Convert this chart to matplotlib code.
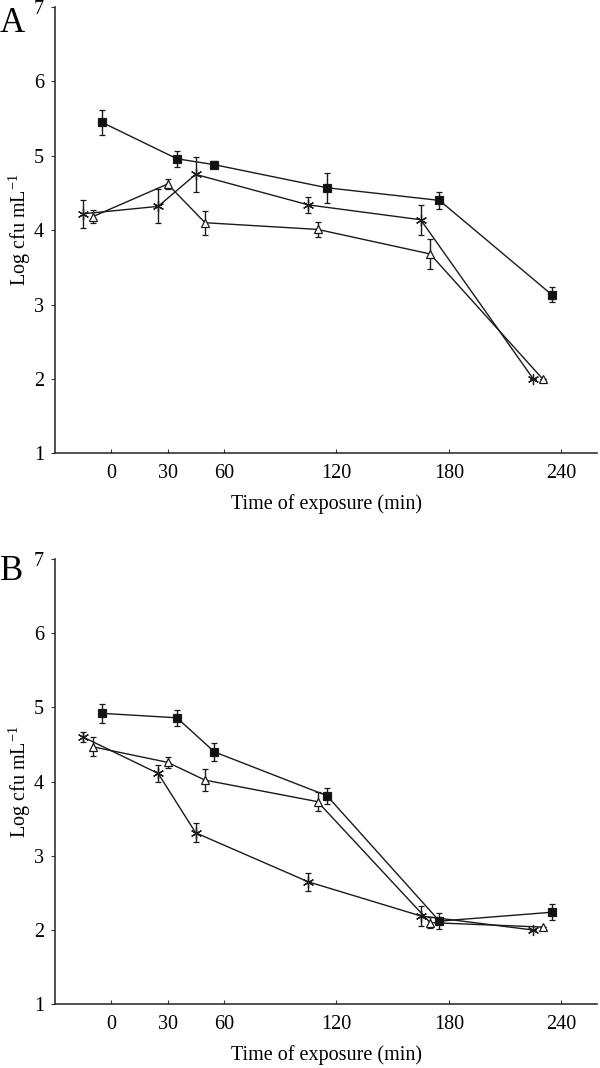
import matplotlib
matplotlib.use("Agg")
import matplotlib.pyplot as plt

plt.rcParams['font.family'] = ['Liberation Serif', 'DejaVu Serif']
plt.rcParams['mathtext.fontset'] = 'custom'
plt.rcParams['mathtext.rm'] = 'Liberation Serif'

# --- data (time in min, log cfu/mL) ---
# Panel A
a_sq_t = [-5, 35, 55, 115, 175, 235]
a_sq_y = [5.45, 4.96, 4.88, 4.57, 4.40, 3.13]
a_sq_e = [0.17, 0.11, 0.05, 0.20, 0.11, 0.10]

a_st_t = [-15, 25, 45, 105, 165, 225]
a_st_y = [4.22, 4.32, 4.75, 4.34, 4.14, 2.00]
a_st_e = [0.19, 0.23, 0.24, 0.11, 0.20, 0.0]

a_tr_t = [-10, 30, 50, 110, 170, 230]
a_tr_y = [4.18, 4.62, 4.10, 4.01, 3.68, 2.00]
a_tr_e = [0.09, 0.07, 0.16, 0.10, 0.20, 0.0]

# Panel B
b_sq_t = [-5, 35, 55, 115, 175, 235]
b_sq_y = [4.92, 4.86, 4.40, 3.81, 2.12, 2.24]
b_sq_e = [0.13, 0.11, 0.12, 0.11, 0.11, 0.11]

b_st_t = [-15, 25, 45, 105, 165, 225]
b_st_y = [4.60, 4.11, 3.31, 2.65, 2.19, 2.00]
b_st_e = [0.07, 0.12, 0.13, 0.12, 0.13, 0.0]

b_tr_t = [-10, 30, 50, 110, 170, 230]
b_tr_y = [4.47, 4.26, 4.02, 3.73, 2.10, 2.04]
b_tr_e = [0.13, 0.07, 0.15, 0.13, 0.07, 0.0]

xticks = [0, 30, 60, 120, 180, 240]
yticks = [1, 2, 3, 4, 5, 6, 7]

fig = plt.figure(figsize=(6, 10.68), dpi=100)
ax_a = fig.add_axes([0.0917, 0.5756, 0.9033, 0.4178])
ax_b = fig.add_axes([0.0917, 0.0597, 0.9033, 0.4169])


def draw_series(ax, t, y, e, marker, face, ms):
    ax.errorbar(t, y, yerr=e, color='#1a1a1a', lw=1.0, elinewidth=1.0,
                capsize=2.5, capthick=1.0, marker=marker, ms=ms,
                mfc=face, mec='#1a1a1a', mew=0.9, zorder=3)


def style_axes(ax):
    ax.set_xlim(-30, 259)
    ax.set_ylim(1, 7)
    ax.set_xticks(xticks)
    ax.set_yticks(yticks)
    for s in ['top', 'right']:
        ax.spines[s].set_visible(False)
    for s in ['left', 'bottom']:
        ax.spines[s].set_color('#333333')
        ax.spines[s].set_linewidth(1.2)
    ax.tick_params(axis='x', direction='in', length=3, pad=8,
                   labelsize=14.5, color='#333333')
    ax.tick_params(axis='y', direction='out', length=3, pad=5,
                   labelsize=14.5, color='#333333')
    ax.set_xlabel('Time of exposure (min)', fontsize=14.5, labelpad=8)
    ax.set_ylabel(r'Log cfu mL$^{\mathrm{-1}}$', fontsize=14.5)
    ax.yaxis.set_label_coords(-0.04, 0.5)


draw_series(ax_a, a_sq_t, a_sq_y, a_sq_e, 's', '#111111', 6)
draw_series(ax_a, a_st_t, a_st_y, a_st_e, (6, 2, 0), 'none', 8)
draw_series(ax_a, a_tr_t, a_tr_y, a_tr_e, '^', 'white', 5.5)
style_axes(ax_a)

draw_series(ax_b, b_sq_t, b_sq_y, b_sq_e, 's', '#111111', 6)
draw_series(ax_b, b_st_t, b_st_y, b_st_e, (6, 2, 0), 'none', 8)
draw_series(ax_b, b_tr_t, b_tr_y, b_tr_e, '^', 'white', 5.5)
style_axes(ax_b)

fig.text(0.0, 0.993, 'A', fontsize=25, va='top', ha='left')
fig.text(0.0, 0.480, 'B', fontsize=25, va='top', ha='left')

fig.savefig('out.png', dpi=100)
